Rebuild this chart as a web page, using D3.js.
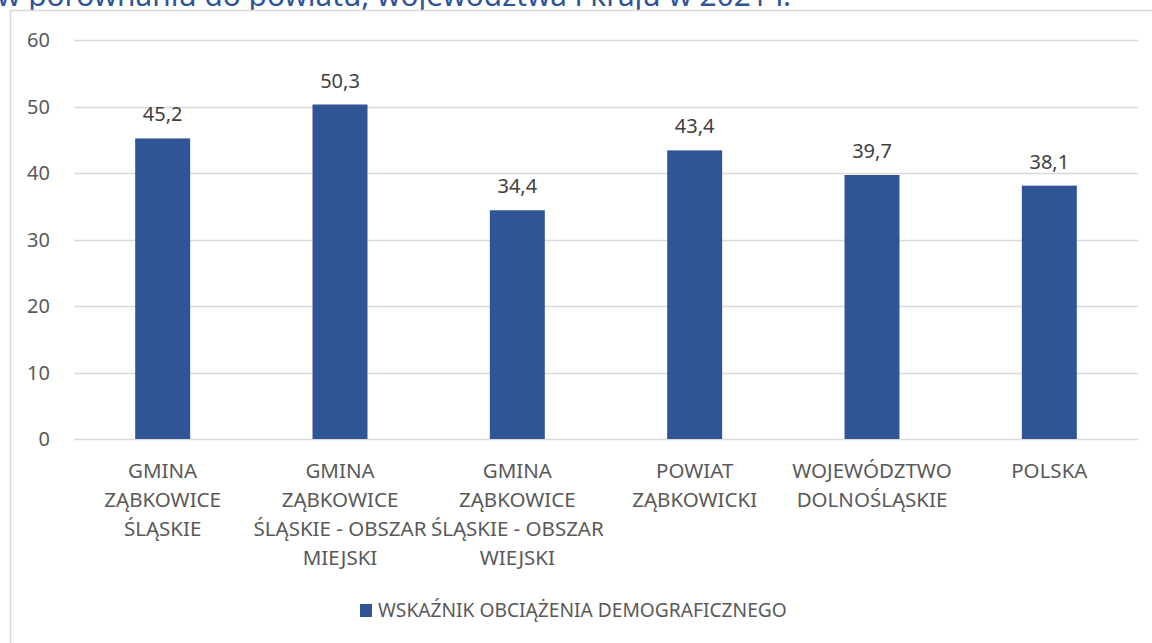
<!DOCTYPE html>
<html>
<head>
<meta charset="utf-8">
<script src="https://cdn.jsdelivr.net/npm/d3@7"></script>
<style>
  html, body { margin: 0; padding: 0; background: #fff; }
  svg { display: block; font-family: "Noto Sans", "Open Sans", sans-serif; }
</style>
</head>
<body>
<div id="chart"></div>
<script>
// --- data ---
const categories = [
    'GMINA ZĄBKOWICE ŚLĄSKIE',
    'GMINA ZĄBKOWICE ŚLĄSKIE - OBSZAR MIEJSKI',
    'GMINA ZĄBKOWICE ŚLĄSKIE - OBSZAR WIEJSKI',
    'POWIAT ZĄBKOWICKI',
    'WOJEWÓDZTWO DOLNOŚLĄSKIE',
    'POLSKA'
];
const tickLabels = [
    ['GMINA', 'ZĄBKOWICE', 'ŚLĄSKIE'],
    ['GMINA', 'ZĄBKOWICE', 'ŚLĄSKIE - OBSZAR', 'MIEJSKI'],
    ['GMINA', 'ZĄBKOWICE', 'ŚLĄSKIE - OBSZAR', 'WIEJSKI'],
    ['POWIAT', 'ZĄBKOWICKI'],
    ['WOJEWÓDZTWO', 'DOLNOŚLĄSKIE'],
    ['POLSKA']
];
const values = [45.2, 50.3, 34.4, 43.4, 39.7, 38.1];
const yTicks = [0, 10, 20, 30, 40, 50, 60];
const seriesName = 'WSKAŹNIK OBCIĄŻENIA DEMOGRAFICZNEGO';
const titleText = 'w porównaniu do powiatu, województwa i kraju w 2021 r.';

const W = 1152, H = 643;
const blue = '#2f5597';
const grid = '#d9d9d9';
const textGrey = '#595959';

const svg = d3.select('#chart').append('svg')
    .attr('width', W)
    .attr('height', H);

// title, cut off by the top edge as in the source image
svg.append('text')
    .attr('x', -3)
    .attr('y', 5.5)
    .attr('fill', blue)
    .attr('font-size', 29.8)
    .text(titleText);

// chart frame (runs past the right and bottom edges)
svg.append('rect')
    .attr('x', 10.5).attr('y', 10.5)
    .attr('width', W + 20).attr('height', H + 20)
    .attr('fill', '#fff')
    .attr('stroke', grid)
    .attr('stroke-width', 1.5);

const plot = { left: 74, right: 1138, top: 40, bottom: 439 };

const x = d3.scaleBand()
    .domain(categories)
    .range([plot.left, plot.right])
    .paddingInner(0.69)
    .paddingOuter(0.345);

const y = d3.scaleLinear()
    .domain([0, 60])
    .range([plot.bottom, plot.top]);

// gridlines
svg.append('g')
    .selectAll('line')
    .data(yTicks)
    .join('line')
    .attr('x1', plot.left).attr('x2', plot.right)
    .attr('y1', d => Math.round(y(d)) + 0.5)
    .attr('y2', d => Math.round(y(d)) + 0.5)
    .attr('stroke', grid)
    .attr('stroke-width', 1.5);

// y axis labels
svg.append('g')
    .selectAll('text')
    .data(yTicks)
    .join('text')
    .attr('x', 50)
    .attr('y', d => y(d))
    .attr('dy', '0.35em')
    .attr('text-anchor', 'end')
    .attr('fill', textGrey)
    .attr('font-size', 20)
    .text(d => d);

// bars
svg.append('g')
    .selectAll('rect')
    .data(values)
    .join('rect')
    .attr('x', (d, i) => x(categories[i]))
    .attr('width', x.bandwidth())
    .attr('y', d => y(d))
    .attr('height', d => y(0) - y(d))
    .attr('fill', blue);

// value labels
svg.append('g')
    .selectAll('text')
    .data(values)
    .join('text')
    .attr('x', (d, i) => x(categories[i]) + x.bandwidth() / 2)
    .attr('y', d => y(d) - 17)
    .attr('text-anchor', 'middle')
    .attr('fill', '#404040')
    .attr('font-size', 20)
    .text(d => d.toFixed(1).replace('.', ','));

// category labels
const cat = svg.append('g')
    .selectAll('text')
    .data(tickLabels)
    .join('text')
    .attr('y', 478)
    .attr('text-anchor', 'middle')
    .attr('fill', textGrey)
    .attr('font-size', 20.5);

cat.selectAll('tspan')
    .data((d, i) => d.map(line => ({ line, cx: x(categories[i]) + x.bandwidth() / 2 })))
    .join('tspan')
    .attr('x', d => d.cx)
    .attr('dy', (d, j) => j === 0 ? 0 : 29)
    .text(d => d.line);

// legend
const legend = svg.append('g').attr('transform', 'translate(360, 604)');
legend.append('rect')
    .attr('width', 12).attr('height', 13)
    .attr('fill', blue);
legend.append('text')
    .attr('x', 18)
    .attr('y', 6.5)
    .attr('dy', '0.35em')
    .attr('fill', textGrey)
    .attr('font-size', 19.2)
    .text(seriesName);
</script>
</body>
</html>
